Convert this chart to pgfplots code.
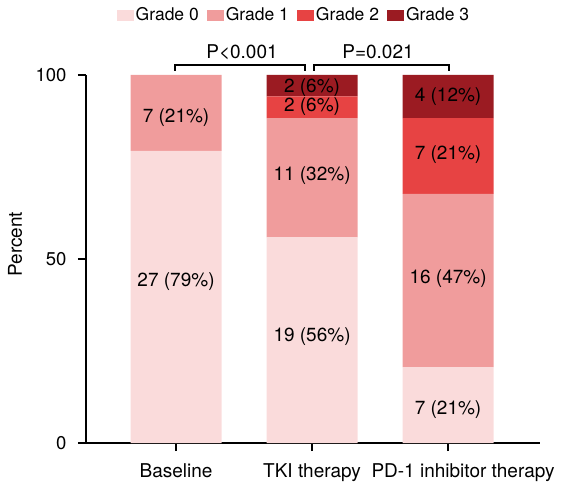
\documentclass[border=0pt]{standalone}
\usepackage{pgfplots}
\pgfplotsset{compat=1.18}
\usepackage{fontspec}
\setmainfont{TeX Gyre Heros}
\usetikzlibrary{calc}
\definecolor{g0}{HTML}{FADBDB}
\definecolor{g1}{HTML}{F09C9C}
\definecolor{g2}{HTML}{E74343}
\definecolor{g3}{HTML}{9B1B22}
\begin{document}
\fontsize{19}{22}\selectfont
\begin{tikzpicture}
\begin{axis}[
  name=ax,
  scale only axis,
  width=454pt, height=368pt,
  ybar stacked, bar width=91pt,
  xmin=-0.662, xmax=2.676, ymin=0, ymax=100,
  xtick={0,1,2},
  xticklabels={Baseline, TKI therapy, \hspace*{30pt}PD-1 inhibitor therapy},
  ytick={0,50,100},
  axis lines*=left,
  axis line style={line width=1.2pt},
  tick style={black, line width=1.2pt},
  tick align=outside, major tick length=8pt,
  /pgf/number format/assume math mode=true,
  x tick label style={font=\fontsize{19}{22}\selectfont, yshift=-6pt},
  y tick label style={font=\fontsize{18.5}{22}\selectfont, xshift=-5pt},
  clip=false,
  legend columns=4,
  legend style={at={(0.458,1.163)}, anchor=center, draw=none, fill=none,
    font=\fontsize{17.5}{20}\selectfont,
    /tikz/every even column/.append style={column sep=6pt},
    inner sep=0pt},
  legend image code/.code={\fill[#1] (0pt,-5.5pt) rectangle (17pt,5.5pt);},
]
\addplot[fill=g0, draw=none] coordinates {(0,79.4) (1,55.9) (2,20.6)};
\addplot[fill=g1, draw=none] coordinates {(0,20.6) (1,32.4) (2,47.1)};
\addplot[fill=g2, draw=none] coordinates {(0,0) (1,5.9) (2,20.6)};
\addplot[fill=g3, draw=none] coordinates {(0,0) (1,5.8) (2,11.7)};
\legend{Grade 0, Grade 1, Grade 2, Grade 3}
\end{axis}
\begin{axis}[
  scale only axis,
  width=454pt, height=368pt,
  xmin=-0.662, xmax=2.676, ymin=0, ymax=100,
  hide axis, clip=false,
]
\node[rotate=90] at (axis description cs:-0.156,0.54) {Percent};
\node at (axis cs:0,88.3) {7 (21\%)};
\node at (axis cs:0,43.75) {27 (79\%)};
\node at (axis cs:1,96.7) {2 (6\%)};
\node at (axis cs:1,91.4) {2 (6\%)};
\node at (axis cs:1,72.6) {11 (32\%)};
\node at (axis cs:1,28.8) {19 (56\%)};
\node at (axis cs:2,94.0) {4 (12\%)};
\node at (axis cs:2,78.3) {7 (21\%)};
\node at (axis cs:2,44.8) {16 (47\%)};
\node at (axis cs:2,9.0) {7 (21\%)};
\draw[line width=2pt] (axis cs:-0.005,101.1) -- (axis cs:-0.005,102.8) -- (axis cs:0.95,102.8) -- (axis cs:0.95,101.1);
\draw[line width=2pt] (axis cs:1.015,101.1) -- (axis cs:1.015,102.8) -- (axis cs:2.01,102.8) -- (axis cs:2.01,101.1);
\node at (axis cs:0.485,106.3) {P<0.001};
\node at (axis cs:1.485,106.3) {P=0.021};
\end{axis}
\pgfresetboundingbox
\path[use as bounding box] ($(ax.south west)+(-86pt,-41pt)$) rectangle ++(567pt,484pt);
\end{tikzpicture}
\end{document}
